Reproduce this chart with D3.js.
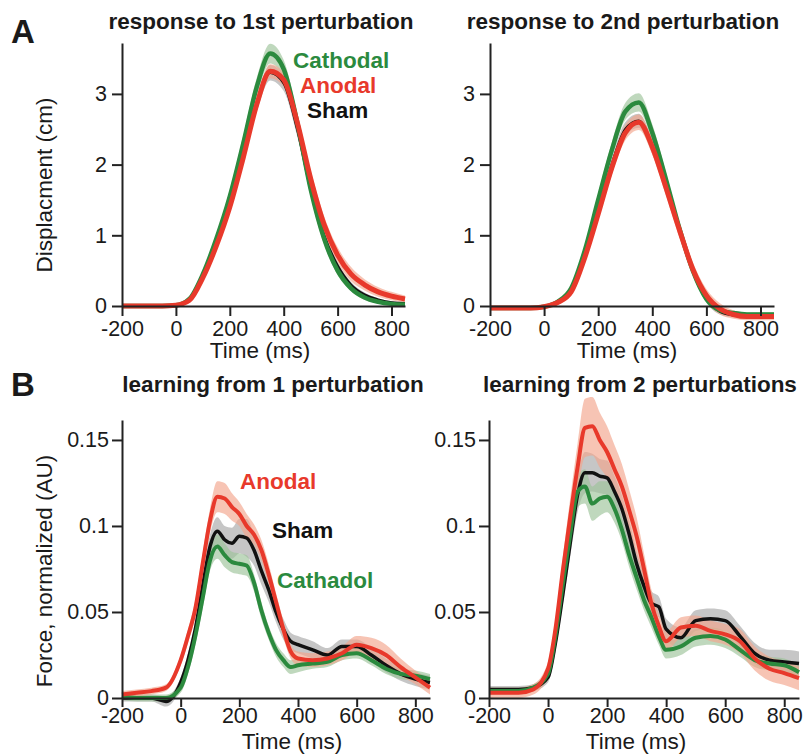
<!DOCTYPE html>
<html lang="en">
<head>
  <meta charset="UTF-8">
  <title>tDCS perturbation responses</title>
  <script src="https://d3js.org/d3.v7.min.js"></script>
  <style>
    body { margin: 0; background: #fff; }
    text { font-family: "Liberation Sans", Arial, sans-serif; fill: #1a1a1a; }
    .axis path, .axis line { stroke: #222; stroke-width: 2px; }
    .axis text { font-size: 21.5px; }
    .ttl { font-size: 22.5px; font-weight: bold; }
    .lbl { font-size: 22.5px; }
    .leg { font-size: 22.5px; font-weight: bold; }
    .big { font-size: 33px; font-weight: bold; }
  </style>
</head>
<body>
<div id="fig"></div>
<script>
// ---- data ----
var tA = [-200,-150,-100,-50,0,50,100,150,200,250,300,350,400,450,500,550,600,650,700,750,800,850];

// response to 1st perturbation (cm)
var shamA1 = [0,0,0,0,0.01,0.08,0.4,0.85,1.4,2.1,2.85,3.3,3.15,2.5,1.65,1.0,0.57,0.3,0.16,0.09,0.05,0.04];
var cathA1 = [0,0,0,0,0.01,0.1,0.45,0.95,1.55,2.3,3.1,3.57,3.35,2.6,1.65,0.95,0.5,0.25,0.12,0.06,0.03,0.02];
var anodA1 = [0,0,0,0,0.01,0.08,0.4,0.85,1.4,2.1,2.85,3.32,3.2,2.6,1.8,1.15,0.72,0.45,0.3,0.2,0.14,0.1];
var shamA1Err = [0,0,0,0,0,0.01,0.03,0.05,0.07,0.09,0.1,0.11,0.11,0.1,0.09,0.07,0.05,0.04,0.03,0.02,0.02,0.02];
var cathA1Err = [0,0,0,0,0,0.01,0.03,0.06,0.09,0.11,0.13,0.14,0.13,0.12,0.1,0.08,0.06,0.04,0.03,0.02,0.02,0.02];
var anodA1Err = [0,0,0,0,0,0.01,0.03,0.05,0.07,0.09,0.1,0.1,0.1,0.11,0.12,0.12,0.11,0.1,0.08,0.07,0.06,0.05];

// response to 2nd perturbation (cm)
var shamA2 = [-0.03,-0.03,-0.03,-0.03,-0.01,0.05,0.22,0.7,1.35,2.0,2.5,2.62,2.25,1.7,1.1,0.5,0.1,-0.08,-0.13,-0.14,-0.14,-0.14];
var cathA2 = [-0.03,-0.03,-0.03,-0.03,-0.01,0.06,0.25,0.78,1.5,2.2,2.75,2.88,2.45,1.8,1.1,0.5,0.1,-0.06,-0.1,-0.12,-0.12,-0.12];
var anodA2 = [-0.03,-0.03,-0.03,-0.03,-0.01,0.05,0.2,0.68,1.3,1.95,2.45,2.6,2.25,1.68,1.08,0.52,0.15,-0.04,-0.12,-0.15,-0.15,-0.15];
var shamA2Err = [0.01,0.01,0.01,0.01,0.01,0.02,0.04,0.06,0.08,0.09,0.1,0.1,0.1,0.09,0.08,0.06,0.05,0.04,0.03,0.03,0.03,0.03];
var cathA2Err = [0.01,0.01,0.01,0.01,0.01,0.02,0.04,0.07,0.09,0.11,0.12,0.13,0.12,0.1,0.08,0.06,0.05,0.04,0.03,0.03,0.03,0.03];
var anodA2Err = [0.02,0.02,0.02,0.02,0.02,0.03,0.05,0.07,0.09,0.1,0.11,0.11,0.11,0.11,0.11,0.1,0.09,0.08,0.06,0.05,0.05,0.05];

var tB = [-200,-150,-100,-50,0,25,50,75,100,125,150,175,200,225,250,275,300,325,350,375,400,450,500,550,600,650,700,750,800,850];

// learning from 1 perturbation (AU)
var anodB1 = [0.002,0.003,0.004,0.006,0.022,0.036,0.052,0.078,0.103,0.117,0.116,0.111,0.107,0.1,0.095,0.086,0.072,0.056,0.04,0.027,0.023,0.022,0.023,0.026,0.031,0.029,0.025,0.018,0.012,0.006];
var shamB1 = [0.0,0.0,0.0,-0.002,0.009,0.022,0.04,0.065,0.088,0.097,0.092,0.09,0.094,0.093,0.086,0.074,0.063,0.05,0.04,0.033,0.031,0.028,0.025,0.03,0.03,0.025,0.019,0.014,0.011,0.009];
var cathB1 = [0.001,0.0,0.0,0.0,0.006,0.018,0.036,0.058,0.08,0.088,0.083,0.079,0.078,0.077,0.067,0.051,0.038,0.028,0.022,0.018,0.019,0.02,0.021,0.025,0.026,0.022,0.017,0.014,0.013,0.011];
var anodB1Err = [0.002,0.002,0.002,0.002,0.003,0.004,0.005,0.006,0.007,0.009,0.009,0.008,0.007,0.007,0.006,0.006,0.006,0.005,0.005,0.004,0.004,0.004,0.004,0.004,0.005,0.006,0.006,0.005,0.004,0.004];
var shamB1Err = [0.002,0.002,0.002,0.003,0.003,0.004,0.005,0.006,0.007,0.008,0.008,0.009,0.01,0.011,0.009,0.008,0.007,0.006,0.006,0.005,0.005,0.005,0.004,0.004,0.004,0.004,0.004,0.004,0.004,0.004];
var cathB1Err = [0.002,0.002,0.002,0.002,0.003,0.004,0.005,0.006,0.006,0.007,0.007,0.006,0.006,0.006,0.005,0.005,0.004,0.004,0.004,0.004,0.004,0.003,0.003,0.003,0.003,0.003,0.003,0.003,0.003,0.003];

// learning from 2 perturbations (AU)
var anodB2 = [0.003,0.003,0.003,0.005,0.017,0.04,0.074,0.105,0.134,0.157,0.158,0.15,0.143,0.133,0.123,0.109,0.094,0.075,0.055,0.042,0.033,0.041,0.042,0.039,0.037,0.033,0.023,0.017,0.0145,0.0115];
var shamB2 = [0.005,0.005,0.005,0.006,0.012,0.032,0.06,0.09,0.118,0.131,0.131,0.129,0.128,0.12,0.11,0.095,0.078,0.065,0.055,0.053,0.04,0.035,0.045,0.046,0.045,0.036,0.026,0.022,0.021,0.02];
var cathB2 = [0.004,0.004,0.004,0.006,0.014,0.036,0.066,0.095,0.12,0.123,0.113,0.116,0.117,0.11,0.098,0.083,0.07,0.057,0.047,0.036,0.028,0.03,0.035,0.036,0.034,0.028,0.022,0.02,0.019,0.015];
var anodB2Err = [0.003,0.003,0.003,0.003,0.004,0.006,0.008,0.011,0.014,0.017,0.017,0.016,0.015,0.014,0.013,0.012,0.011,0.009,0.008,0.007,0.006,0.006,0.006,0.006,0.006,0.007,0.007,0.007,0.007,0.007];
var shamB2Err = [0.002,0.002,0.002,0.002,0.003,0.005,0.006,0.008,0.01,0.012,0.011,0.01,0.01,0.009,0.008,0.008,0.007,0.007,0.007,0.006,0.006,0.006,0.006,0.006,0.006,0.006,0.006,0.006,0.007,0.007];
var cathB2Err = [0.002,0.002,0.002,0.002,0.003,0.005,0.006,0.008,0.009,0.01,0.01,0.01,0.009,0.008,0.007,0.007,0.007,0.006,0.006,0.005,0.005,0.005,0.005,0.005,0.005,0.004,0.004,0.004,0.004,0.004];

var timeTicks = [-200, 0, 200, 400, 600, 800];
var dispTicks = [0, 1, 2, 3];
var dispTickLabels = ["0", "1", "2", "3"];
var forceTicks = [0, 0.05, 0.1, 0.15];
var forceTickLabels = ["0", "0.05", "0.1", "0.15"];

var col = { sham: "#111111", cath: "#2b8a3e", anod: "#e8392b" };
var band = { sham: "#a8a8a8", cath: "#9cc39a", anod: "#f3a58c" };

// ---- drawing ----
var svg = d3.select("#fig").append("svg")
  .attr("width", 804).attr("height", 755);

function panel(o) {
  var x = d3.scaleLinear().domain([-200, 850]).range(o.xr);
  var y = d3.scaleLinear().domain(o.yd).range(o.yr);
  var g = svg.append("g");

  // shaded error bands, then mean lines
  o.series.forEach(function(s) {
    var area = d3.area().curve(d3.curveMonotoneX)
      .x(function(d, i) { return x(o.t[i]); })
      .y0(function(d, i) { return y(d - s.err[i]); })
      .y1(function(d, i) { return y(d + s.err[i]); });
    g.append("path").attr("d", area(s.v))
      .attr("fill", band[s.k]).attr("opacity", 0.65);
  });
  o.series.forEach(function(s) {
    var line = d3.line().curve(d3.curveMonotoneX)
      .x(function(d, i) { return x(o.t[i]); })
      .y(function(d) { return y(d); });
    g.append("path").attr("d", line(s.v))
      .attr("fill", "none").attr("stroke", col[s.k])
      .attr("stroke-width", s.w).attr("stroke-linejoin", "round");
  });

  // axes (plain hyphen for negatives, like the original figure)
  g.append("g").attr("class", "axis")
    .attr("transform", "translate(0," + y(0) + ")")
    .call(d3.axisBottom(x).tickValues(timeTicks).tickSize(o.xts).tickSizeOuter(0)
      .tickPadding(o.xp).tickFormat(function(d) { return String(d); }))
    .call(function(a) { a.selectAll("text").attr("fill", "#1a1a1a"); });
  var ya = d3.axisLeft(y).tickValues(o.yt).tickSize(10).tickSizeOuter(0).tickPadding(o.yp)
    .tickFormat(function(d, i) { return o.ytl[i]; });
  g.append("g").attr("class", "axis")
    .attr("transform", "translate(" + x(-200) + ",0)")
    .call(ya)
    .call(function(a) { a.selectAll("text").attr("fill", "#1a1a1a"); });

  g.append("text").attr("class", "ttl").attr("text-anchor", "middle")
    .attr("x", o.tx).attr("y", o.ty).text(o.title);
  g.append("text").attr("class", "lbl").attr("text-anchor", "middle")
    .attr("x", o.lx).attr("y", o.ly).text("Time (ms)");
  return g;
}

panel({
  t: tA, xr: [122, 405], yd: [0, 3.72], yr: [306, 43], yt: dispTicks, ytl: dispTickLabels, yp: 5, xts: 10, xp: 5,
  title: "response to 1st perturbation", tx: 261, ty: 29, lx: 260, ly: 358,
  series: [
    { k: "sham", v: shamA1, err: shamA1Err, w: 2.5 },
    { k: "cath", v: cathA1, err: cathA1Err, w: 4.5 },
    { k: "anod", v: anodA1, err: anodA1Err, w: 5 }
  ]
});
panel({
  t: tA, xr: [490, 774], yd: [0, 3.72], yr: [306, 43], yt: dispTicks, ytl: dispTickLabels, yp: 5, xts: 10, xp: 5,
  title: "response to 2nd perturbation", tx: 623, ty: 29, lx: 627, ly: 358,
  series: [
    { k: "sham", v: shamA2, err: shamA2Err, w: 2.5 },
    { k: "cath", v: cathA2, err: cathA2Err, w: 4.5 },
    { k: "anod", v: anodA2, err: anodA2Err, w: 5 }
  ]
});
panel({
  t: tB, xr: [122, 430], yd: [0, 0.1616], yr: [698, 420], yt: forceTicks, ytl: forceTickLabels, yp: 3, xts: 9, xp: 1,
  title: "learning from 1 perturbation", tx: 273, ty: 392, lx: 292, ly: 749,
  series: [
    { k: "sham", v: shamB1, err: shamB1Err, w: 3.5 },
    { k: "cath", v: cathB1, err: cathB1Err, w: 4 },
    { k: "anod", v: anodB1, err: anodB1Err, w: 4 }
  ]
});
panel({
  t: tB, xr: [489, 799], yd: [0, 0.1616], yr: [698, 420], yt: forceTicks, ytl: forceTickLabels, yp: 3, xts: 9, xp: 1,
  title: "learning from 2 perturbations", tx: 640, ty: 392, lx: 636, ly: 749,
  series: [
    { k: "sham", v: shamB2, err: shamB2Err, w: 3.5 },
    { k: "cath", v: cathB2, err: cathB2Err, w: 4 },
    { k: "anod", v: anodB2, err: anodB2Err, w: 4 }
  ]
});

// y labels
svg.append("text").attr("class", "lbl").attr("text-anchor", "middle")
  .attr("transform", "translate(52,185) rotate(-90)").text("Displacment (cm)");
svg.append("text").attr("class", "lbl").attr("text-anchor", "middle")
  .attr("transform", "translate(52,571) rotate(-90)").text("Force, normalized (AU)");

// panel letters
svg.append("text").attr("class", "big").attr("x", 11).attr("y", 43).text("A");
svg.append("text").attr("class", "big").attr("x", 11).attr("y", 396).text("B");

// in-plot labels
svg.append("text").attr("class", "leg").attr("x", 293).attr("y", 68).style("fill", col.cath).text("Cathodal");
svg.append("text").attr("class", "leg").attr("x", 300).attr("y", 93).style("fill", col.anod).text("Anodal");
svg.append("text").attr("class", "leg").attr("x", 307).attr("y", 118).style("fill", col.sham).text("Sham");
svg.append("text").attr("class", "leg").attr("x", 240).attr("y", 489).style("fill", col.anod).text("Anodal");
svg.append("text").attr("class", "leg").attr("x", 272).attr("y", 538).style("fill", col.sham).text("Sham");
svg.append("text").attr("class", "leg").attr("x", 277).attr("y", 588).style("fill", col.cath).text("Cathadol");
</script>
</body>
</html>
